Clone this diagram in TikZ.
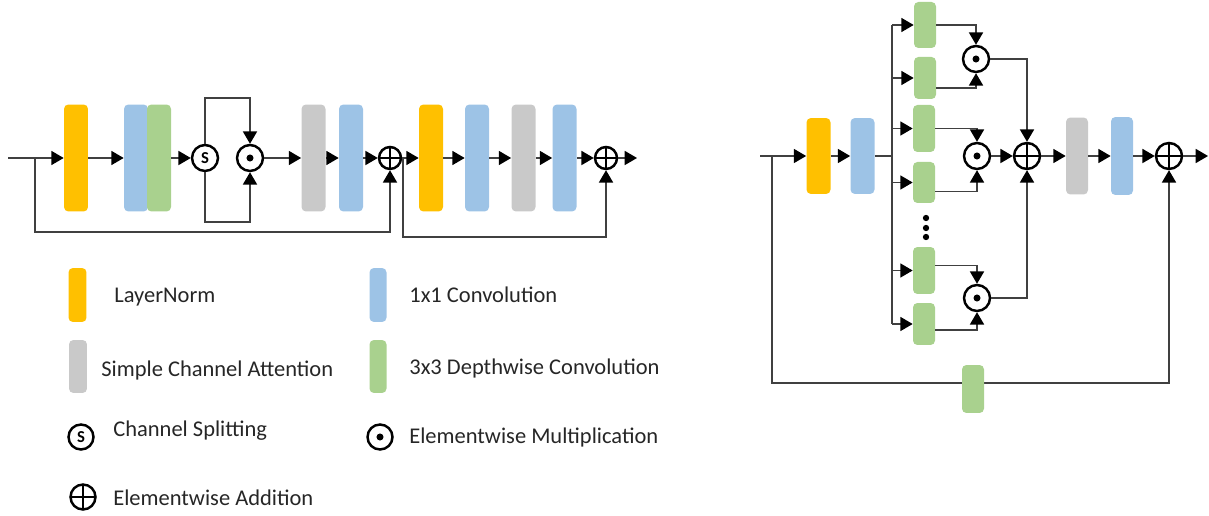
\documentclass[tikz,border=0pt]{standalone}
\usepackage{fontspec}
\setmainfont{Carlito}
\usetikzlibrary{arrows.meta,calc}
\definecolor{lnyellow}{HTML}{FFC000}
\definecolor{convblue}{HTML}{9DC3E6}
\definecolor{dwgreen}{HTML}{A9D18E}
\definecolor{scagray}{HTML}{C9C9C9}
\definecolor{wiregray}{HTML}{404040}
\begin{document}
\begin{tikzpicture}[x=0.02cm, y=-0.02cm, >={Triangle[length=7pt,width=8pt,color=black]},
    blk/.style={rounded corners=2.5pt, inner sep=0pt, minimum width=0.48cm, minimum height=2.14cm},
    ln/.style={blk, fill=lnyellow}, conv/.style={blk, fill=convblue},
    dw/.style={blk, fill=dwgreen}, sca/.style={blk, fill=scagray},
    op/.style={circle, draw=black, line width=1.4pt, inner sep=0pt, minimum size=0.52cm},
    add/.style={op, path picture={\draw[line width=1.3pt] (path picture bounding box.north) -- (path picture bounding box.south)
        (path picture bounding box.west) -- (path picture bounding box.east);}},
    mul/.style={op, path picture={\fill (path picture bounding box.center) circle (2pt);}},
    split/.style={op, font=\fontsize{9.5}{9.5}\selectfont\bfseries},
    wire/.style={draw=wiregray, line width=0.75pt},
    txt/.style={anchor=base west, inner sep=0pt, text=black!85, font=\fontsize{12.8}{15}\selectfont}]
\useasboundingbox (0,0) rectangle (1209,516);
% left block
\node[ln]   (ln1) at (76,158) {};
\node[conv] (c1)  at (136,158) {};
\node[dw]   (g1)  at (159,158) {};
\node[split] (s1) at (205,158) {S};
\node[mul]  (m1)  at (250,158) {};
\node[sca]  (sa1) at (313.5,158) {};
\node[conv] (c2)  at (351,158) {};
\node[add, minimum size=0.44cm] (p1) at (390,158) {};
\node[ln]   (ln2) at (431,158) {};
\node[conv] (c3)  at (477,158) {};
\node[sca]  (sa2) at (523.5,158) {};
\node[conv] (c4)  at (564.5,158) {};
\node[add, minimum size=0.44cm] (p2) at (606,158) {};
\coordinate (in1) at (8,158);
\coordinate (out1) at (637,158);
\coordinate (br1) at (35,158);
\coordinate (br2) at (403,158);
\draw[wire,->] (in1) -- (ln1);
\draw[wire,->] (ln1) -- (c1);
\draw[wire,->] (g1) -- (s1);
\draw[wire,->] (s1.north) -- (205,98) -| (m1.north);
\draw[wire,->] (s1.south) -- (205,222) -| (m1.south);
\draw[wire,->] (m1) -- (sa1);
\draw[wire,->] (sa1) -- (c2);
\draw[wire,->] (c2) -- (p1);
\draw[wire,->] (p1) -- (ln2);
\draw[wire,->] (ln2) -- (c3);
\draw[wire,->] (c3) -- (sa2);
\draw[wire,->] (sa2) -- (c4);
\draw[wire,->] (c4) -- (p2);
\draw[wire,->] (p2) -- (out1);
\draw[wire,->] (br1) -- (35,232) -| (p1.south);
\draw[wire,->] (br2) -- (403,237) -| (p2.south);
% right block
\node[ln, minimum height=1.52cm]   (ln3) at (818.5,156) {};
\node[conv, minimum height=1.52cm] (c5)  at (862.5,156) {};
\node[dw, minimum width=0.44cm, minimum height=0.92cm] (d1) at (925,25) {};
\node[dw, minimum width=0.44cm, minimum height=0.84cm] (d2) at (925,78) {};
\node[dw, minimum width=0.44cm, minimum height=0.94cm] (d3) at (924,128.5) {};
\node[dw, minimum width=0.44cm, minimum height=0.82cm] (d4) at (924,182.5) {};
\node[dw, minimum width=0.44cm, minimum height=0.94cm] (d5) at (924,270.5) {};
\node[dw, minimum width=0.44cm, minimum height=0.84cm] (d6) at (924,324) {};
\node[mul] (mu1) at (976,59) {};
\node[mul] (mu2) at (977,156) {};
\node[mul] (mu3) at (977,298) {};
\node[add] (pl3) at (1027,156) {};
\node[sca, minimum width=0.44cm, minimum height=1.54cm]  (sa3) at (1077,156) {};
\node[conv, minimum width=0.44cm, minimum height=1.56cm] (c6)  at (1122,156) {};
\node[add] (pl4) at (1169,156) {};
\coordinate (in2) at (760,156);
\coordinate (out2) at (1208,156);
\coordinate (bus) at (892,156);
\coordinate (br3) at (772,156);
\draw[wire,->] (in2) -- (ln3);
\draw[wire,->] (ln3) -- (c5);
\draw[wire] (c5) -- (bus);
\draw[wire] (bus |- d1) -- (bus |- d6);
\foreach \d in {d1,d2,d3,d4,d5,d6}
    \draw[wire,->] (bus |- \d) -- (\d);
\draw[wire,->] (d1.east) -| (mu1.north);
\draw[wire,->] ($(d2.east)+(0,10)$) -| (mu1.south);
\draw[wire,->] (d3.east) -| (mu2.north);
\draw[wire,->] ($(d4.east)+(0,9)$) -| (mu2.south);
\draw[wire,->] ($(d5.east)+(0,-5)$) -| (mu3.north);
\draw[wire,->] ($(d6.east)+(0,6)$) -| (mu3.south);
\draw[wire,->] (mu1.east) -| (pl3.north);
\draw[wire,->] (mu2) -- (pl3);
\draw[wire,->] (mu3.east) -| (pl3.south);
\draw[wire,->] (pl3) -- (sa3);
\draw[wire,->] (sa3) -- (c6);
\draw[wire,->] (c6) -- (pl4);
\draw[wire,->] (pl4) -- (out2);
\draw[wire,->] (br3) -- (772,383) -| (pl4.south);
\node[dw, minimum width=0.44cm, minimum height=0.96cm] (d7) at (973,389) {};
\foreach \y in {218,228,237}
    \fill (926,\y) circle (1.8pt);
% legend
\node[ln, minimum width=0.36cm, minimum height=1.08cm]   (kln)  at (77.5,295) {};
\node[txt] (tln) at (114,303) {LayerNorm};
\node[conv, minimum width=0.34cm, minimum height=1.08cm] (kconv) at (378,295) {};
\node[txt] (tconv) at (409,303) {1x1 Convolution};
\node[sca, minimum width=0.36cm, minimum height=1.06cm]  (ksca) at (78,366.5) {};
\node[txt] (tsca) at (101,377) {Simple Channel Attention};
\node[dw, minimum width=0.34cm, minimum height=1.06cm]   (kdw)  at (378,366.5) {};
\node[txt] (tdw) at (409,375) {3x3 Depthwise Convolution};
\node[split, minimum size=0.5cm] (ks) at (81,437) {S};
\node[txt] (ts) at (113,436) {Channel Splitting};
\node[mul, minimum size=0.5cm] (km) at (380,437) {};
\node[txt] (tm) at (409,443) {Elementwise Multiplication};
\node[add, minimum size=0.5cm] (ka) at (83,497) {};
\node[txt] (ta) at (113,505) {Elementwise Addition};
\end{tikzpicture}
\end{document}
